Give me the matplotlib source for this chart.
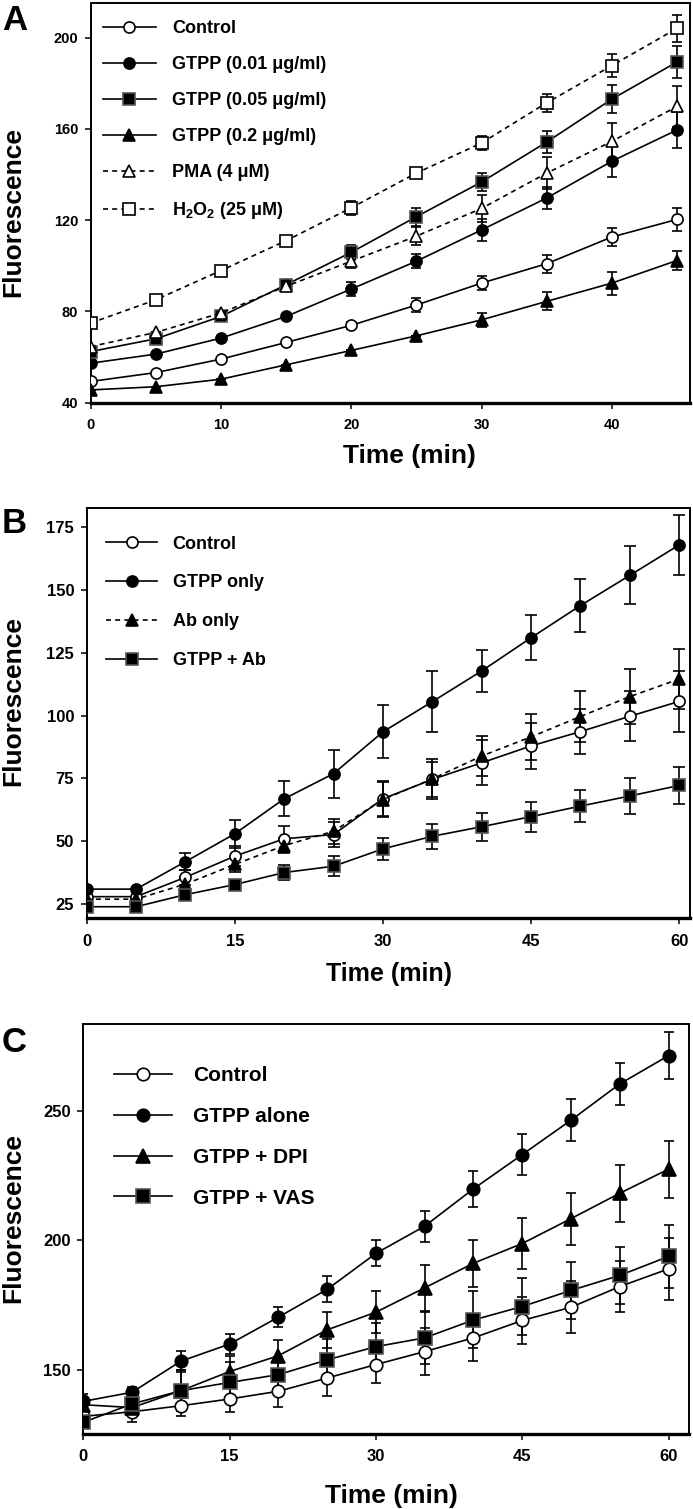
import matplotlib
matplotlib.use("Agg")
import matplotlib.pyplot as plt
import numpy as np

plt.rcParams['font.family'] = ['Liberation Sans', 'DejaVu Sans']
plt.rcParams['font.weight'] = 'bold'
plt.rcParams['mathtext.fontset'] = 'custom'
plt.rcParams['mathtext.rm'] = 'Liberation Sans:bold'
plt.rcParams['mathtext.bf'] = 'Liberation Sans:bold'
plt.rcParams['mathtext.default'] = 'rm'

# ---------------- Panel A data ----------------
time_a = [0, 5, 10, 15, 20, 25, 30, 35, 40, 45]
a_labels = ["Control", "GTPP (0.01 \u03bcg/ml)", "GTPP (0.05 \u03bcg/ml)",
            "GTPP (0.2 \u03bcg/ml)", "PMA (4 \u03bcM)", "H$_2$O$_2$ (25 \u03bcM)"]
a_control = [49.3, 53.2, 59.1, 66.4, 73.9, 82.8, 92.4, 100.9, 112.6, 120.3]
a_control_err = [0, 0, 0, 0, 1.5, 3, 3, 4, 4, 5]
a_gtpp001 = [57.3, 61.3, 68.3, 77.8, 89.8, 102.0, 115.7, 129.7, 145.8, 159.5]
a_gtpp001_err = [0, 0, 0, 0, 3, 3, 5, 5, 7, 8]
a_gtpp005 = [62.4, 68.0, 77.8, 91.7, 105.9, 121.5, 136.7, 154.2, 173.0, 189.3]
a_gtpp005_err = [0, 0, 0, 0, 3, 4, 4, 5, 6, 7]
a_gtpp02 = [45.6, 47.0, 50.3, 56.6, 62.9, 69.3, 76.3, 84.4, 92.4, 102.3]
a_gtpp02_err = [0, 0, 0, 0, 0, 0, 3, 4, 5, 4]
a_pma = [64.6, 70.8, 79.3, 91.0, 102.0, 113.0, 125.1, 140.6, 154.5, 169.8]
a_pma_err = [0, 0, 0, 0, 3, 4, 6, 7, 8, 9]
a_h2o2 = [74.9, 85.1, 97.9, 111.0, 125.4, 140.6, 153.8, 171.4, 187.7, 204.0]
a_h2o2_err = [0, 0, 0, 2, 3, 2, 3, 4, 5, 6]

# ---------------- Panel B data ----------------
time_b = [0, 5, 10, 15, 20, 25, 30, 35, 40, 45, 50, 55, 60]
b_labels = ["Control", "GTPP only", "Ab only", "GTPP + Ab"]
b_control = [28, 28, 35.7, 44.1, 51.0, 52.7, 66.9, 74.6, 81.2, 87.9, 93.6, 99.7, 105.6]
b_control_err = [0, 0, 3, 4, 5, 5, 7, 7, 9, 9, 9, 10, 12]
b_gtpp = [31, 31, 41.9, 53.0, 66.9, 76.9, 93.5, 105.5, 117.7, 130.9, 143.7, 155.7, 167.8]
b_gtpp_err = [0, 0, 3.5, 5.5, 7, 9.5, 10.5, 12, 8.5, 9, 10.5, 11.5, 12]
b_ab = [27, 27, 33.0, 40.8, 48.3, 54.0, 66.6, 74.8, 83.9, 91.5, 99.6, 107.5, 114.5]
b_ab_err = [0, 0, 3, 3, 3, 5, 7, 8, 8, 9, 10, 11, 12]
b_gtpp_ab = [24, 24, 28.8, 32.8, 37.6, 40.1, 47.0, 52.0, 55.8, 59.8, 64.0, 68.0, 72.2]
b_gtpp_ab_err = [0, 0, 2, 2, 3, 4, 4.5, 5, 5.5, 6, 6.5, 7, 7.5]

# ---------------- Panel C data ----------------
time_c = [0, 5, 10, 15, 20, 25, 30, 35, 40, 45, 50, 55, 60]
c_labels = ["Control", "GTPP alone", "GTPP + DPI", "GTPP + VAS"]
c_control = [132.1, 133.9, 136.2, 138.8, 141.8, 146.9, 152.1, 157.1, 162.4, 169.1, 174.2, 182.2, 189.0]
c_control_err = [0, 4, 4, 5, 6, 7, 7, 9, 9, 9, 10, 10, 12]
c_gtpp = [137.9, 141.4, 153.4, 160.0, 170.4, 181.1, 195.0, 205.5, 219.9, 233.1, 246.4, 260.4, 271.3]
c_gtpp_err = [3, 2, 4, 4, 4, 5, 5, 6, 7, 8, 8, 8, 9]
c_dpi = [136.6, 135.5, 142.0, 149.4, 155.5, 165.5, 172.3, 181.7, 191.2, 198.8, 208.4, 218.2, 227.5]
c_dpi_err = [0, 0, 8, 6, 6, 7, 8, 9, 9, 10, 10, 11, 11]
c_vas = [129.8, 136.9, 142.0, 145.2, 148.2, 153.9, 159.0, 162.4, 169.3, 174.5, 180.7, 186.5, 193.8]
c_vas_err = [0, 0, 8, 8, 7, 8, 9, 10, 11, 11, 11, 11, 12]

W, H = 693, 1509
fig = plt.figure(figsize=(W / 100, H / 100), dpi=100)


def ax_rect(l, t, r, b):
    return [l / W, 1 - b / H, (r - l) / W, (b - t) / H]


def style_axes(ax, tick_fs):
    for s in ['top', 'left', 'right']:
        ax.spines[s].set_linewidth(1.4)
    ax.spines['bottom'].set_linewidth(2.4)
    ax.tick_params(direction='out', length=4, width=1.1, labelsize=tick_fs, pad=5)
    ax.tick_params(axis='x', pad=7)
    for lab in ax.get_xticklabels() + ax.get_yticklabels():
        lab.set_fontweight('bold')


def draw_series(ax, t, y, err, marker, filled, ls, ms, cap, label):
    ax.errorbar(t, y, yerr=err, fmt='none', ecolor='black', elinewidth=1.2,
                capsize=cap, capthick=1.2, zorder=2)
    if marker == 's' and filled:
        mfc, mec = 'black', '#555555'
    elif filled:
        mfc, mec = 'black', 'black'
    else:
        mfc, mec = 'white', 'black'
    kw = dict(color='black', lw=1.2, marker=marker, ms=ms, mfc=mfc, mec=mec,
              mew=1.2, label=label, zorder=3)
    if ls == '--':
        ax.plot(t, y, ls='--', dashes=(3, 2.5), **kw)
    else:
        ax.plot(t, y, ls='-', **kw)


# ---------------- Panel A ----------------
axA = fig.add_axes(ax_rect(90.7, 3.3, 690, 402.7))
seriesA = [
    (a_control, a_control_err, 'o', False, '-', 8),
    (a_gtpp001, a_gtpp001_err, 'o', True, '-', 8),
    (a_gtpp005, a_gtpp005_err, 's', True, '-', 8.5),
    (a_gtpp02, a_gtpp02_err, '^', True, '-', 8.5),
    (a_pma, a_pma_err, '^', False, '--', 8.5),
    (a_h2o2, a_h2o2_err, 's', False, '--', 8.5),
]
for (y, e, m, f, ls, ms), lab in zip(seriesA, a_labels):
    draw_series(axA, time_a, y, e, m, f, ls, ms, 3.3, lab)
axA.set_xlim(0, 46)
axA.set_ylim(40, 215)
axA.set_xticks([0, 10, 20, 30, 40])
axA.set_yticks([40, 80, 120, 160, 200])
style_axes(axA, 10.5)
axA.legend(loc='upper left', bbox_to_anchor=(0.0205, 0.957), borderaxespad=0,
           borderpad=0, frameon=False, handlelength=2.93,
           handletextpad=0.89, labelspacing=1.05,
           prop={'weight': 'bold', 'size': 13})

# ---------------- Panel B ----------------
axB = fig.add_axes(ax_rect(86.7, 507.7, 690, 918.3))
seriesB = [
    (b_control, b_control_err, 'o', False, '-', 8),
    (b_gtpp, b_gtpp_err, 'o', True, '-', 8),
    (b_ab, b_ab_err, '^', True, '--', 8.5),
    (b_gtpp_ab, b_gtpp_ab_err, 's', True, '-', 8.5),
]
for (y, e, m, f, ls, ms), lab in zip(seriesB, b_labels):
    draw_series(axB, time_b, y, e, m, f, ls, ms, 4, lab)
axB.set_xlim(0, 61.1)
axB.set_ylim(19.4, 182.6)
axB.set_xticks([0, 15, 30, 45, 60])
axB.set_yticks([25, 50, 75, 100, 125, 150, 175])
style_axes(axB, 12)
axB.legend(loc='upper left', bbox_to_anchor=(0.032, 0.932), borderaxespad=0,
           borderpad=0, frameon=False, handlelength=2.83,
           handletextpad=0.86, labelspacing=1.21,
           prop={'weight': 'bold', 'size': 13})

# ---------------- Panel C ----------------
axC = fig.add_axes(ax_rect(83.3, 1024.3, 689, 1434))
seriesC = [
    (c_control, c_control_err, 'o', False, '-', 9),
    (c_gtpp, c_gtpp_err, 'o', True, '-', 9),
    (c_dpi, c_dpi_err, '^', True, '-', 9.5),
    (c_vas, c_vas_err, 's', True, '-', 9.5),
]
for (y, e, m, f, ls, ms), lab in zip(seriesC, c_labels):
    draw_series(axC, time_c, y, e, m, f, ls, ms, 3.8, lab)
axC.set_xlim(0, 62.1)
axC.set_ylim(125.3, 283.4)
axC.set_xticks([0, 15, 30, 45, 60])
axC.set_yticks([150, 200, 250])
style_axes(axC, 12)
axC.legend(loc='upper left', bbox_to_anchor=(0.0507, 0.898), borderaxespad=0,
           borderpad=0, frameon=False, handlelength=2.79,
           handletextpad=1.0, labelspacing=1.05,
           prop={'weight': 'bold', 'size': 15})

# ---------------- Text labels ----------------
def ftext(x, y, s, **kw):
    fig.text(x / W, 1 - y / H, s, **kw)

ftext(2, 30, "A", fontsize=25, fontweight='bold', ha='left', va='baseline')
ftext(2, 533, "B", fontsize=25, fontweight='bold', ha='left', va='baseline')
ftext(2, 1052, "C", fontsize=25, fontweight='bold', ha='left', va='baseline')

for yc in (212, 701, 1218):
    ftext(13, yc, "Fluorescence", fontsize=19, fontweight='bold', rotation=90,
          ha='center', va='center')

ftext(409, 463, "Time (min)", fontsize=19, fontweight='bold', ha='center', va='baseline')
ftext(389, 981, "Time (min)", fontsize=18, fontweight='bold', ha='center', va='baseline')
ftext(391, 1503, "Time (min)", fontsize=19, fontweight='bold', ha='center', va='baseline')

fig.savefig("out.png", dpi=100)
